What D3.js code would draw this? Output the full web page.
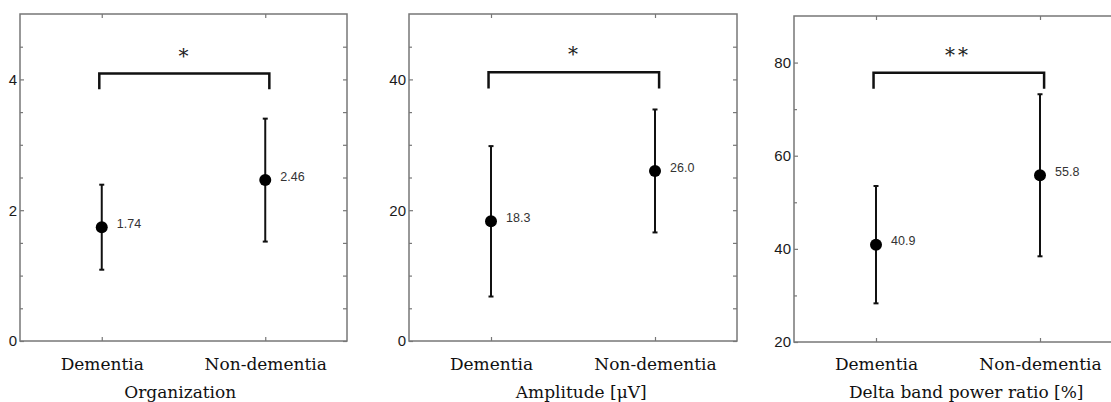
<!DOCTYPE html>
<html>
<head>
<meta charset="utf-8">
<script src="https://cdn.jsdelivr.net/npm/d3@7"></script>
<style>
  html, body { margin: 0; padding: 0; background: #fff; }
  svg { display: block; }
</style>
</head>
<body>
<svg id="chart" width="1111" height="402"></svg>
<script>
// ---------- data ----------
const categories = ["Dementia", "Non-dementia"];

const orgMean = [1.74, 2.46];
const orgSD = [0.65, 0.94];
const orgTicks = [0, 2, 4];
const orgMinorTicks = [0.5, 1, 1.5, 2.5, 3, 3.5, 4.5];
const orgBracket = [4.09, 3.85];

const ampMean = [18.3, 26.0];
const ampSD = [11.5, 9.4];
const ampTicks = [0, 20, 40];
const ampMinorTicks = [5, 10, 15, 25, 30, 35, 45];
const ampBracket = [41.1, 38.6];

const deltaMean = [40.9, 55.8];
const deltaSD = [12.6, 17.4];
const deltaTicks = [20, 40, 60, 80];
const deltaMinorTicks = [30, 50, 70];
const deltaBracket = [77.8, 74.4];

const significance = ["*", "*", "**"];
const axisTitles = ["Organization", "Amplitude [\u03bcV]", "Delta band power ratio [%]"];

// ---------- layout / styles ----------
const panels = [
  { left: 20,  right: 347,  top: 14, bottom: 341, yDomain: [0, 5],   mean: orgMean,   sd: orgSD,   ticks: orgTicks,   minor: orgMinorTicks,   bracket: orgBracket,   fmt: d3.format(".2f"), titleX: 1.48, titleY: 398 },
  { left: 409, right: 737,  top: 14, bottom: 341, yDomain: [0, 50],  mean: ampMean,   sd: ampSD,   ticks: ampTicks,   minor: ampMinorTicks,   bracket: ampBracket,   fmt: d3.format(".1f"), titleX: 1.55, titleY: 398 },
  { left: 794, right: 1122, top: 16, bottom: 342, yDomain: [20, 90], mean: deltaMean, sd: deltaSD, ticks: deltaTicks, minor: deltaMinorTicks, bracket: deltaBracket, fmt: d3.format(".1f"), titleX: 1.55, titleY: 397.5 }
];

const frameColor = "#777";
const serif = "'DejaVu Serif', serif";
const sans = "'Liberation Sans', Arial, sans-serif";

const svg = d3.select("#chart");

panels.forEach((p, i) => {
  const g = svg.append("g");
  const x = d3.scaleLinear().domain([0.5, 2.5]).range([p.left, p.right]);
  const y = d3.scaleLinear().domain(p.yDomain).range([p.bottom, p.top]);
  const catPos = categories.map((c, k) => k + 1);

  // frame
  g.append("rect")
    .attr("x", p.left).attr("y", p.top)
    .attr("width", p.right - p.left).attr("height", p.bottom - p.top)
    .attr("fill", "none").attr("stroke", frameColor).attr("stroke-width", 1.5);

  // left axis (major ticks inward, labels)
  const yAxis = d3.axisLeft(y).tickValues(p.ticks).tickSize(-4).tickPadding(5).tickFormat(d3.format("d"));
  const ya = g.append("g").attr("transform", `translate(${p.left},0)`).call(yAxis);
  ya.select(".domain").remove();
  ya.selectAll(".tick line").attr("stroke", frameColor).attr("stroke-width", 1.2);
  ya.selectAll(".tick text").attr("font-family", sans).attr("font-size", 15).attr("fill", "#1a1a1a")
    .attr("dx", 2);

  // minor ticks left
  const yMinor = d3.axisLeft(y).tickValues(p.minor).tickSize(-3).tickFormat("");
  const ym = g.append("g").attr("transform", `translate(${p.left},0)`).call(yMinor);
  ym.select(".domain").remove();
  ym.selectAll(".tick line").attr("stroke", frameColor).attr("stroke-width", 1.2);

  // right ticks
  const yRight = d3.axisRight(y).tickValues(p.ticks.concat(p.minor)).tickSize(-4).tickFormat("");
  const yr = g.append("g").attr("transform", `translate(${p.right},0)`).call(yRight);
  yr.select(".domain").remove();
  yr.selectAll(".tick line").attr("stroke", frameColor).attr("stroke-width", 1.2);

  // bottom axis: category ticks inward + labels
  const xAxis = d3.axisBottom(x).tickValues(catPos).tickSize(-4).tickPadding(10)
    .tickFormat((d) => categories[d - 1]);
  const xa = g.append("g").attr("transform", `translate(0,${p.bottom})`).call(xAxis);
  xa.select(".domain").remove();
  xa.selectAll(".tick line").attr("stroke", frameColor).attr("stroke-width", 1.2);
  xa.selectAll(".tick text").attr("font-family", serif).attr("font-size", 17).attr("fill", "#111")
    .attr("y", null).attr("dy", null)
    .attr("transform", `translate(0, ${370 - p.bottom})`);

  // top ticks
  const xTop = d3.axisTop(x).tickValues(catPos).tickSize(-4).tickFormat("");
  const xt = g.append("g").attr("transform", `translate(0,${p.top})`).call(xTop);
  xt.select(".domain").remove();
  xt.selectAll(".tick line").attr("stroke", frameColor).attr("stroke-width", 1.2);

  // axis title
  g.append("text")
    .attr("x", x(p.titleX)).attr("y", p.titleY)
    .attr("text-anchor", "middle")
    .attr("font-family", serif).attr("font-size", 17).attr("fill", "#111")
    .text(axisTitles[i]);

  // error bars
  const data = categories.map((c, k) => ({ pos: k + 1, mean: p.mean[k], sd: p.sd[k] }));
  const eg = g.selectAll(".err").data(data).enter().append("g");
  eg.append("line")
    .attr("x1", (d) => x(d.pos)).attr("x2", (d) => x(d.pos))
    .attr("y1", (d) => y(d.mean - d.sd)).attr("y2", (d) => y(d.mean + d.sd))
    .attr("stroke", "#111").attr("stroke-width", 2);
  [-1, 1].forEach((s) => {
    eg.append("line")
      .attr("x1", (d) => x(d.pos) - 2.5).attr("x2", (d) => x(d.pos) + 2.5)
      .attr("y1", (d) => y(d.mean + s * d.sd)).attr("y2", (d) => y(d.mean + s * d.sd))
      .attr("stroke", "#111").attr("stroke-width", 2);
  });
  eg.append("circle")
    .attr("cx", (d) => x(d.pos)).attr("cy", (d) => y(d.mean))
    .attr("r", 6).attr("fill", "#000");
  eg.append("text")
    .attr("x", (d) => x(d.pos) + 15).attr("y", (d) => y(d.mean))
    .attr("dy", "0.05em")
    .attr("font-family", sans).attr("font-size", 12.5).attr("fill", "#333")
    .text((d) => p.fmt(d.mean));

  // significance bracket
  const bx1 = x(0.985), bx2 = x(2.025);
  const top = y(p.bracket[0]), end = y(p.bracket[1]);
  g.append("path")
    .attr("d", `M${bx1},${end}V${top}H${bx2}V${end}`)
    .attr("fill", "none").attr("stroke", "#111").attr("stroke-width", 2.5);
  g.append("text")
    .attr("x", x(1.5)).attr("y", top - 11)
    .attr("text-anchor", "middle")
    .attr("font-family", serif).attr("font-size", 20).attr("fill", "#222")
    .attr("letter-spacing", significance[i].length > 1 ? 3 : 0)
    .text(significance[i]);
});
</script>
</body>
</html>
